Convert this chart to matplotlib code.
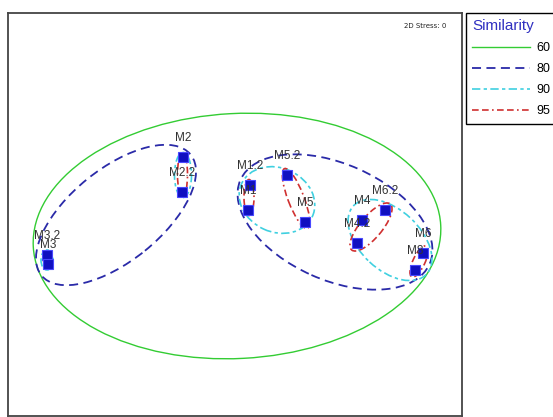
import matplotlib.pyplot as plt
from matplotlib.patches import Ellipse
from matplotlib.lines import Line2D

# MDS coordinates of the samples
names = ['M1.2', 'M1', 'M2', 'M2.2', 'M3.2', 'M3', 'M4', 'M4.2',
         'M5.2', 'M5', 'M6.2', 'M6', 'M8']
xs = [0.15, 0.13, -0.52, -0.53, -1.88, -1.87, 1.27, 1.22,
      0.52, 0.70, 1.50, 1.88, 1.80]
ys = [0.30, 0.05, 0.58, 0.23, -0.40, -0.49, -0.05, -0.28,
      0.40, -0.07, 0.05, -0.38, -0.55]

# similarity contours: level, centre x, centre y, width, height, angle
levels = [60, 80, 80, 90, 90, 90, 90, 95, 95, 95, 95, 95, 95]
cx = [0.02, -1.19, 1.00, 0.42, 1.55, -0.52, -1.88, -0.525, -1.875, 0.14, 0.61, 1.36, 1.84]
cy = [-0.21, 0.00, -0.07, 0.15, -0.25, 0.40, -0.45, 0.405, -0.445, 0.175, 0.165, -0.12, -0.465]
cw = [4.08, 1.92, 2.07, 0.78, 1.00, 0.17, 0.12, 0.10, 0.08, 0.10, 0.64, 0.60, 0.34]
ch = [2.45, 0.92, 1.16, 0.64, 0.60, 0.45, 0.20, 0.45, 0.16, 0.36, 0.16, 0.22, 0.12]
ca = [3, 39, -24, -25, -43, 0, 0, 0, 0, 0, -69, 50, 65]

legend_levels = [60, 80, 90, 95]

styles = {60: dict(color='#33cc33', ls='-', lw=1.0),
          80: dict(color='#2a2aa8', ls=(0, (5, 3)), lw=1.3),
          90: dict(color='#40d0e0', ls=(0, (5, 2, 2, 2)), lw=1.2),
          95: dict(color='#d03030', ls=(0, (4, 2, 4, 2, 1, 2)), lw=1.2)}

fig = plt.figure(figsize=(5.53, 4.17), dpi=100)
ax = fig.add_axes([8/553, 1/417, 454/553, 403/417])
ax.set_xlim(-2.27, 2.27)
ax.set_ylim(-2.01, 2.02)
ax.set_xticks([])
ax.set_yticks([])
for s in ax.spines.values():
    s.set_color('#444444')
    s.set_linewidth(1.3)

# contours
for lev, x, y, w, h, a in zip(levels, cx, cy, cw, ch, ca):
    st = styles[lev]
    ax.add_patch(Ellipse((x, y), w, h, angle=a, fill=False, edgecolor=st['color'],
                         linestyle=st['ls'], linewidth=st['lw'], zorder=2))

# samples
ax.plot(xs, ys, 's', color='#1010c0', markeredgecolor='#4848ff', markersize=7,
        markeredgewidth=0.8, zorder=3)
for n, x, y in zip(names, xs, ys):
    ax.annotate(n, (x, y), xytext=(0, 13.5), textcoords='offset points',
                ha='center', va='center', fontsize=8.5, color='#333333',
                family='Liberation Sans', zorder=4)

ax.text(0.965, 0.968, '2D Stress: 0', transform=ax.transAxes, ha='right',
        va='center', fontsize=5, color='#222222')

# legend
handles = [Line2D([], [], color=styles[l]['color'], linestyle=styles[l]['ls'],
                  linewidth=styles[l]['lw']) for l in legend_levels]
leg = fig.legend(handles, [str(l) for l in legend_levels], loc='upper left',
                 bbox_to_anchor=(466/553, 1 - 13/417), borderaxespad=0,
                 title='Similarity', alignment='left',
                 title_fontsize=11, handlelength=4.6, handletextpad=0.55,
                 labelspacing=0.72, borderpad=0.5, fancybox=False,
                 edgecolor='black', framealpha=1,
                 prop={'family': 'Liberation Sans', 'size': 9})
leg.get_title().set_color('#3030c0')
leg.get_title().set_family('Liberation Sans')
leg.get_frame().set_linewidth(1.0)

fig.savefig('out.png', dpi=100)
